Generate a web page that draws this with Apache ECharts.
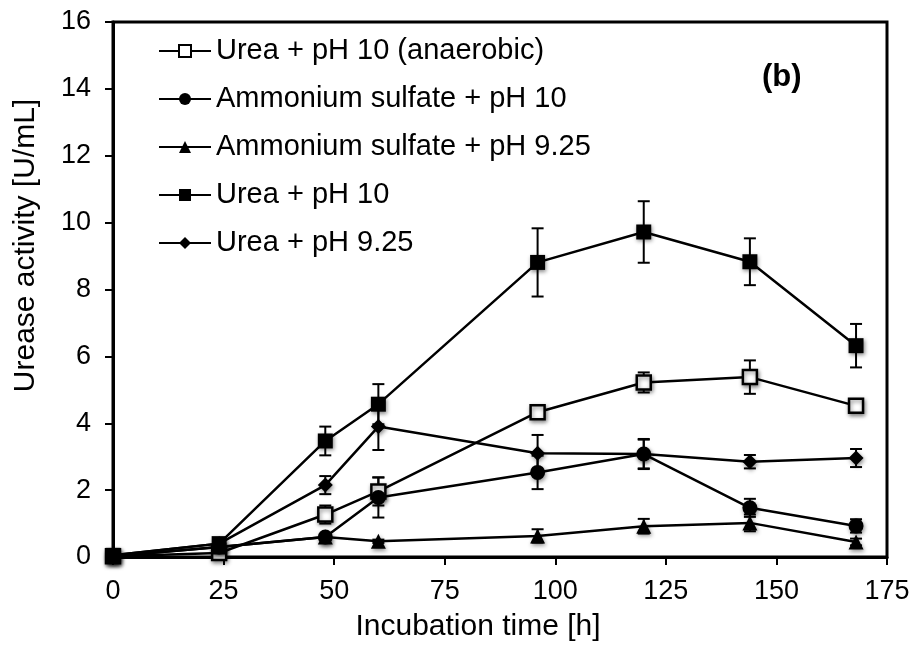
<!DOCTYPE html>
<html>
<head>
<meta charset="utf-8">
<script src="https://cdn.jsdelivr.net/npm/echarts@6/dist/echarts.min.js"></script>
<style>
  html, body { margin: 0; padding: 0; background: #fff; }
  #chart { width: 916px; height: 653px; }
</style>
</head>
<body>
<div id="chart"></div>
<script>
// incubation time [h]
var hours = [0, 24, 48, 60, 96, 120, 144, 168];

// urease activity [U/mL] and error bar half-widths
var ureaAnaerobic    = [0.02, 0.12, 1.27, 1.96, 4.33, 5.22, 5.38, 4.52];
var ureaAnaerobicErr = [0, 0, 0.27, 0.42, 0.08, 0.30, 0.50, 0.08];

var amSulfPH10    = [0.02, 0.30, 0.60, 1.78, 2.53, 3.08, 1.47, 0.93];
var amSulfPH10Err = [0, 0, 0.08, 0.60, 0.50, 0.43, 0.27, 0.20];

var amSulfPH925    = [0.02, 0.30, 0.60, 0.47, 0.63, 0.92, 1.02, 0.45];
var amSulfPH925Err = [0, 0, 0.05, 0.05, 0.20, 0.22, 0.25, 0.10];

var ureaPH10    = [0.05, 0.40, 3.47, 4.57, 8.81, 9.72, 8.83, 6.32];
var ureaPH10Err = [0, 0.05, 0.43, 0.60, 1.02, 0.92, 0.70, 0.65];

var ureaPH925    = [0.05, 0.40, 2.15, 3.90, 3.10, 3.08, 2.85, 2.96];
var ureaPH925Err = [0, 0, 0.27, 0.70, 0.55, 0.45, 0.20, 0.27];

var xTicks = [0, 25, 50, 75, 100, 125, 150, 175];
var yTicks = [0, 2, 4, 6, 8, 10, 12, 14, 16];

var FONT = "'Liberation Sans', Arial, sans-serif";

function pairs(vals) {
  var out = [];
  for (var i = 0; i < hours.length; i++) out.push([hours[i], vals[i]]);
  return out;
}
function triples(vals, errs) {
  var out = [];
  for (var i = 0; i < hours.length; i++) out.push([hours[i], vals[i], errs[i]]);
  return out;
}

function errorBars(params, api) {
  var x = api.value(0), y = api.value(1), e = api.value(2);
  if (!e) return;
  var top = api.coord([x, y + e]);
  var bot = api.coord([x, y - e]);
  var st = { stroke: '#000', lineWidth: 2 };
  var w = 6;
  return {
    type: 'group',
    children: [
      { type: 'line', shape: { x1: top[0], y1: top[1], x2: bot[0], y2: bot[1] }, style: st },
      { type: 'line', shape: { x1: top[0] - w, y1: top[1], x2: top[0] + w, y2: top[1] }, style: st },
      { type: 'line', shape: { x1: bot[0] - w, y1: bot[1], x2: bot[0] + w, y2: bot[1] }, style: st }
    ]
  };
}

var shadow = { shadowBlur: 4, shadowColor: 'rgba(0,0,0,0.45)', shadowOffsetX: 1, shadowOffsetY: 2 };

function lineSeries(name, vals, symbol, size, fill) {
  return {
    name: name,
    type: 'line',
    data: pairs(vals),
    symbol: symbol,
    symbolSize: size,
    showAllSymbol: true,
    lineStyle: { color: '#000', width: 2.5 },
    itemStyle: Object.assign({ color: fill, borderColor: '#000', borderWidth: fill === '#fff' ? 2.5 : 0 }, shadow),
    emphasis: { disabled: true },
    z: 3
  };
}
function errSeries(id, vals, errs) {
  return {
    name: id,
    type: 'custom',
    renderItem: errorBars,
    data: triples(vals, errs),
    z: 2,
    silent: true
  };
}

var names = [
  'Urea + pH 10 (anaerobic)',
  'Ammonium sulfate + pH 10',
  'Ammonium sulfate + pH 9.25',
  'Urea + pH 10',
  'Urea + pH 9.25'
];

var chart = echarts.init(document.getElementById('chart'));
chart.setOption({
  animation: false,
  textStyle: { fontFamily: FONT },
  grid: {
    left: 113, right: 29, top: 22, bottom: 96,
    show: true, borderColor: '#000', borderWidth: 3
  },
  legend: {
    orient: 'vertical',
    left: 153,
    top: 31,
    itemWidth: 52,
    itemHeight: 15,
    itemGap: 18,
    data: names,
    textStyle: { fontFamily: FONT, fontSize: 29, color: '#000', lineHeight: 30 }
  },
  graphic: [{
    type: 'text',
    left: 762,
    top: 62,
    style: { text: '(b)', font: 'bold 31px ' + FONT, fill: '#000' }
  }],
  xAxis: {
    type: 'value',
    min: xTicks[0],
    max: xTicks[xTicks.length - 1],
    interval: 25,
    name: 'Incubation time [h]',
    nameLocation: 'middle',
    nameGap: 55,
    nameTextStyle: { fontSize: 30, color: '#000', fontFamily: FONT, padding: [0, 44, 0, 0] },
    axisLine: { show: true, lineStyle: { color: '#000', width: 3 } },
    axisTick: { show: true, length: 8, lineStyle: { color: '#000', width: 2 } },
    axisLabel: { fontSize: 27, color: '#000', margin: 21, fontFamily: FONT },
    splitLine: { show: false }
  },
  yAxis: {
    type: 'value',
    min: yTicks[0],
    max: yTicks[yTicks.length - 1],
    interval: 2,
    name: 'Urease activity [U/mL]',
    nameLocation: 'middle',
    nameGap: 72,
    nameTextStyle: { fontSize: 30, color: '#000', fontFamily: FONT, padding: [0, 0, 0, 88] },
    axisLine: { show: true, lineStyle: { color: '#000', width: 3 } },
    axisTick: { show: true, length: 8, lineStyle: { color: '#000', width: 2 } },
    axisLabel: { fontSize: 27, color: '#000', margin: 22, fontFamily: FONT },
    splitLine: { show: false }
  },
  series: [
    errSeries('e1', ureaAnaerobic, ureaAnaerobicErr),
    errSeries('e2', amSulfPH10, amSulfPH10Err),
    errSeries('e3', amSulfPH925, amSulfPH925Err),
    errSeries('e4', ureaPH10, ureaPH10Err),
    errSeries('e5', ureaPH925, ureaPH925Err),
    lineSeries(names[0], ureaAnaerobic, 'rect', 14, '#fff'),
    lineSeries(names[1], amSulfPH10, 'circle', 15, '#000'),
    lineSeries(names[2], amSulfPH925, 'triangle', 15, '#000'),
    lineSeries(names[3], ureaPH10, 'rect', 15, '#000'),
    lineSeries(names[4], ureaPH925, 'diamond', 15, '#000')
  ]
});
window.onresize = function () { chart.resize(); };
</script>
</body>
</html>
